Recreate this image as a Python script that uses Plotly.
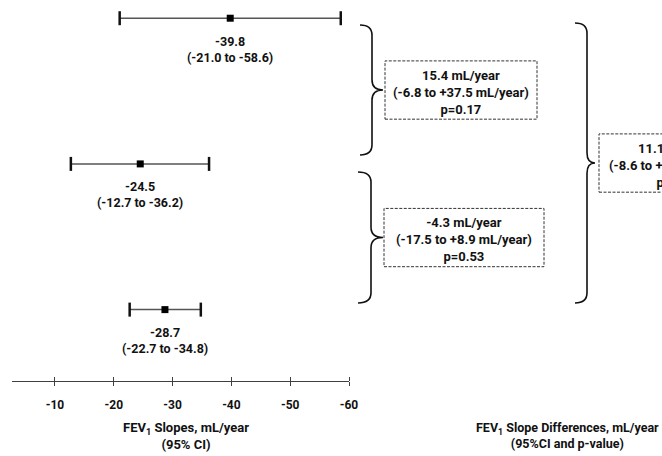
import plotly.graph_objects as go

# ---- data ----
rows = [3, 2, 1]
slope_est = [-39.8, -24.5, -28.7]
ci_low = [-21.0, -12.7, -22.7]
ci_high = [-58.6, -36.2, -34.8]

diff_est = [15.4, -4.3, 11.1]
diff_lo = [-6.8, -17.5, -8.6]
diff_hi = [37.5, 8.9, 30.8]
diff_p = [0.17, 0.53, 0.27]

tick_vals = [-10, -20, -30, -40, -50, -60]
tick_text = ["-10", "-20", "-30", "-40", "-50", "-60"]

W, H = 662, 456
FONT = "Roboto, Lato, sans-serif"
TXT = "#111111"

def px(x):
    return x / W

def py(y):
    return (H - y) / H

fig = go.Figure()

# CI lines
for r, lo, hi in zip(rows, ci_low, ci_high):
    fig.add_trace(go.Scatter(x=[lo, hi], y=[r, r], mode="lines",
                             line=dict(color="#555555", width=1.5),
                             hoverinfo="skip", showlegend=False))
# caps
fig.add_trace(go.Scatter(x=ci_low + ci_high, y=rows + rows, mode="markers",
                         marker=dict(symbol="line-ns", size=10,
                                     line=dict(color="#111111", width=2.5)),
                         hoverinfo="skip", showlegend=False))
# point estimates
fig.add_trace(go.Scatter(x=slope_est, y=rows, mode="markers",
                         marker=dict(symbol="square", size=7, color="#000000"),
                         showlegend=False))
# helper trace for the upward tick axis
fig.add_trace(go.Scatter(x=tick_vals, y=[rows[-1]] * len(tick_vals), xaxis="x2",
                         mode="markers", marker=dict(opacity=0, size=1),
                         hoverinfo="skip", showlegend=False))

# labels under each estimate
for r, e, lo, hi in zip(rows, slope_est, ci_low, ci_high):
    fig.add_annotation(x=e, y=r, xref="x", yref="y",
                       text=f"<b>{e:.1f}<br>({lo:.1f} to {hi:.1f})</b>",
                       showarrow=False, yanchor="middle", yshift=-31,
                       font=dict(family=FONT, size=12.5, color=TXT, weight="bold"))

# braces
def brace(xa, xb, xc, yt, yb, r=0.07):
    ym = (yt + yb) / 2
    xa, xb, xc = px(xa), px(xb), px(xc)
    return (f"M {xa},{yt} Q {xb},{yt} {xb},{yt - r} L {xb},{ym + r} "
            f"Q {xb},{ym} {xc},{ym} Q {xb},{ym} {xb},{ym - r} "
            f"L {xb},{yb + r} Q {xb},{yb} {xa},{yb}")

brace_defs = [
    (360, 372, 383, 2.953, 2.061),
    (358, 371, 383, 1.944, 1.045),
    (575, 587, 595, 2.967, 1.045),
]
box_x = [(385, 537), (384, 544), (599, 755)]

for (xa, xb, xc, yt, yb), (bx0, bx1), d, lo, hi, p in zip(
        brace_defs, box_x, diff_est, diff_lo, diff_hi, diff_p):
    fig.add_shape(type="path", path=brace(xa, xb, xc, yt, yb),
                  xref="paper", yref="y",
                  line=dict(color="#111111", width=1.6))
    ym = (yt + yb) / 2
    fig.add_shape(type="rect", xref="paper", yref="y",
                  x0=px(bx0), x1=px(bx1), y0=ym - 0.2, y1=ym + 0.2,
                  line=dict(color="#333333", width=1, dash="3px,1.5px"),
                  fillcolor="rgba(0,0,0,0)")
    fig.add_annotation(x=px((bx0 + bx1) / 2), y=ym, xref="paper", yref="y",
                       text=f"<b>{d:.1f} mL/year<br>({lo:.1f} to {hi:+.1f} mL/year)<br>p={p:.2f}</b>",
                       showarrow=False, xanchor="center", yanchor="middle", yshift=-2,
                       font=dict(family=FONT, size=13, color=TXT, weight="bold"))

# axis titles
fig.add_annotation(x=px(186), y=py(435.5), xref="paper", yref="paper",
                   text="<b>FEV<sub>1</sub> Slopes, mL/year<br>(95% CI)</b>",
                   showarrow=False, xanchor="center", yanchor="middle",
                   font=dict(family=FONT, size=13, color=TXT, weight="bold"))
fig.add_annotation(x=px(567), y=py(435.5), xref="paper", yref="paper",
                   text="<b>FEV<sub>1</sub> Slope Differences, mL/year<br>(95%CI and p-value)</b>",
                   showarrow=False, xanchor="center", yanchor="middle",
                   font=dict(family=FONT, size=12.5, color=TXT, weight="bold"))

dom = [px(12), px(349)]
rng = [-2.69, -60]
axis_pos = py(381)
fig.update_layout(
    width=W, height=H, autosize=False,
    margin=dict(l=0, r=0, t=0, b=0, pad=0, autoexpand=False),
    paper_bgcolor="white", plot_bgcolor="white",
    xaxis=dict(domain=dom, range=rng, showline=True, linecolor="#404040",
               linewidth=1, ticks="outside", ticklen=4, tickwidth=1,
               tickcolor="#404040", tickvals=tick_vals, ticktext=tick_text,
               ticklabelstandoff=9, automargin=False,
               tickfont=dict(family=FONT, size=12, color=TXT, weight="bold"),
               showgrid=False, zeroline=False, fixedrange=True),
    xaxis2=dict(domain=dom, range=rng, overlaying="x", anchor="free",
                position=axis_pos, side="top", automargin=False,
                ticks="outside", ticklen=4, tickwidth=1, tickcolor="#404040",
                tickvals=tick_vals, showticklabels=False, showline=False,
                showgrid=False, zeroline=False, fixedrange=True),
    yaxis=dict(domain=[axis_pos, 1], range=[0.51, 3.125], visible=False,
               automargin=False, fixedrange=True),
    showlegend=False,
)

fig.write_html(
    "out.html",
    config={"displayModeBar": False, "responsive": False},
    post_script="document.body.style.margin='0';document.body.style.overflow='hidden';"
                "document.documentElement.style.overflow='hidden';",
)
